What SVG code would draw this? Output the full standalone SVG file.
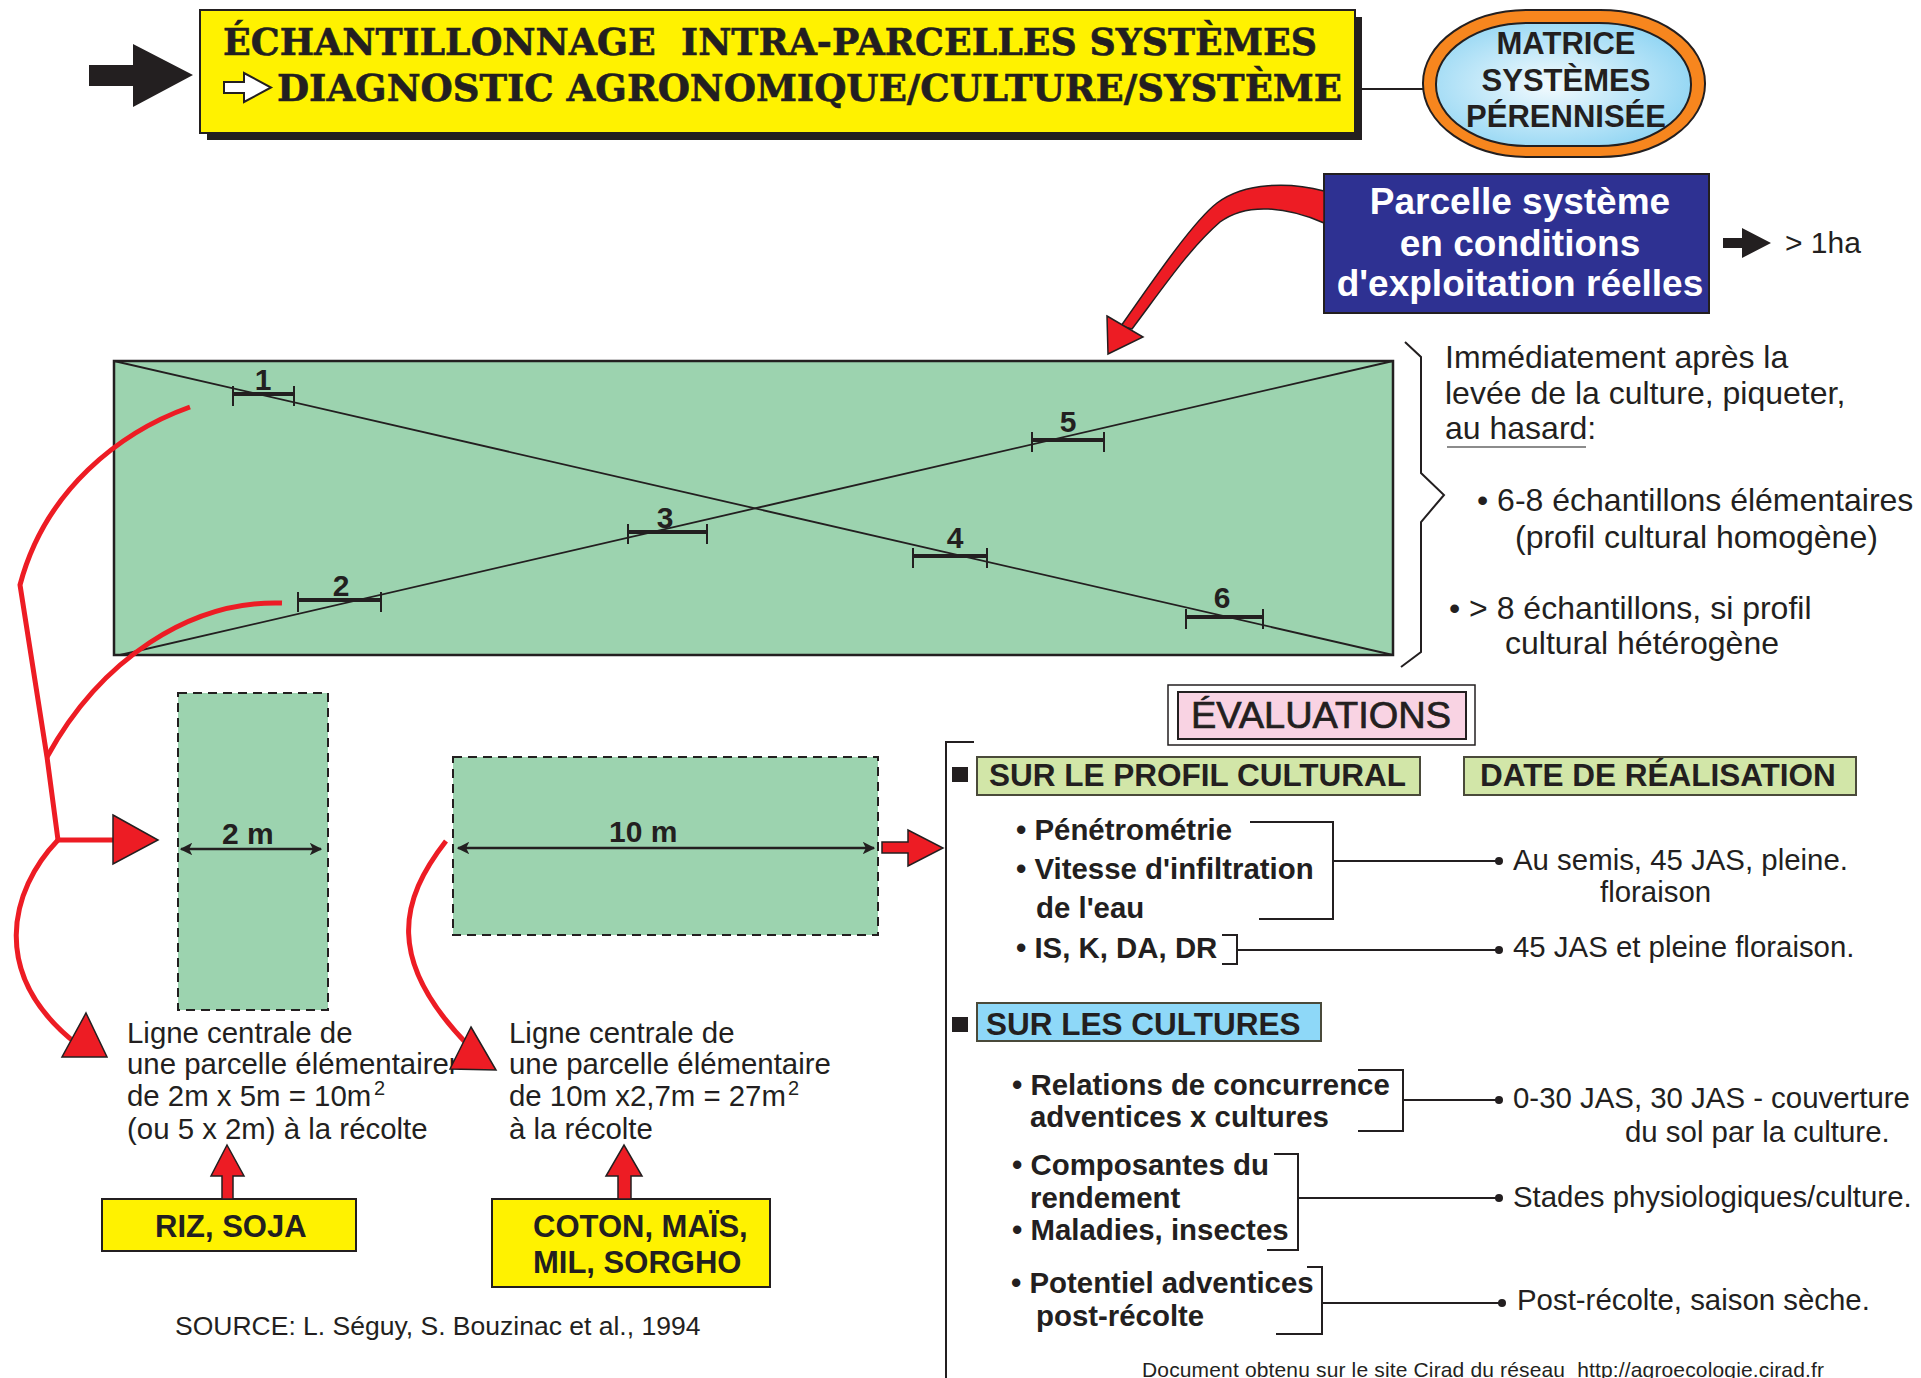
<svg xmlns="http://www.w3.org/2000/svg" width="1921" height="1378" viewBox="0 0 1921 1378">
<defs>
<style>
.sans{font-family:"Liberation Sans",Arial,Helvetica,sans-serif;fill:#231F20}
.b{font-weight:bold}
.title{font-family:"DejaVu Serif","Liberation Serif",serif;font-weight:bold;font-size:37px;fill:#231F20;white-space:pre;stroke:#231F20;stroke-width:0.6}
.t32{font-size:32px}
.t29{font-size:29.4px}
.num{font-size:30px;font-weight:bold}
.ln{stroke:#231F20;stroke-width:2;fill:none}
.red{stroke:#ED1C24;stroke-width:5;fill:none}
.redf{fill:#ED1C24;stroke:#231F20;stroke-width:1.5}
.blk{fill:#231F20}
.field{fill:#9CD3AF;stroke:#231F20;stroke-width:2.5}
.dash{fill:#9CD3AF;stroke:#231F20;stroke-width:2;stroke-dasharray:9 6}
.bar{stroke:#231F20;stroke-width:4}
.tick{stroke:#231F20;stroke-width:2}
.lbl{fill:#D2E6A8;stroke:#4A4A3A;stroke-width:2}
.dot{fill:#231F20}
</style>
<radialGradient id="sky" cx="0.45" cy="0.5" r="0.6">
<stop offset="0" stop-color="#F4FBFE"/>
<stop offset="1" stop-color="#8ED4F3"/>
</radialGradient>
<marker id="ah" viewBox="0 0 10 10" refX="9" refY="5" markerWidth="5" markerHeight="5" orient="auto-start-reverse">
<path d="M0,0 L10,5 L0,10 L2.5,5 Z" fill="#231F20"/>
</marker>
</defs>

<rect width="1921" height="1378" fill="#FFFFFF"/>

<!-- title banner -->
<g id="title">
<path class="blk" d="M89,65 L133,65 L133,44 L193,75 L133,107 L133,86 L89,86 Z"/>
<rect x="207" y="17" width="1155" height="123" fill="#231F20"/>
<rect x="200" y="10" width="1155" height="123" fill="#FFF200" stroke="#231F20" stroke-width="2"/>
<text class="title" x="223" y="55" textLength="1094" lengthAdjust="spacingAndGlyphs">ÉCHANTILLONNAGE  INTRA-PARCELLES SYSTÈMES</text>
<path d="M224,82 L244,82 L244,73 L271,87.5 L244,102 L244,93 L224,93 Z" fill="#FFFFFF" stroke="#231F20" stroke-width="2"/>
<text class="title" x="277" y="101" textLength="1065" lengthAdjust="spacingAndGlyphs">DIAGNOSTIC AGRONOMIQUE/CULTURE/SYSTÈME</text>
</g>

<!-- matrix oval -->
<g id="matrice">
<rect x="1423" y="10" width="282" height="147" rx="105" ry="73" fill="#F7861E" stroke="#231F20" stroke-width="2"/>
<rect x="1436" y="23" width="255" height="123" rx="92" ry="61" fill="url(#sky)" stroke="#231F20" stroke-width="2"/>
<text class="sans b" font-size="31" text-anchor="middle" x="1566" y="54">MATRICE</text>
<text class="sans b" font-size="31" text-anchor="middle" x="1566" y="91">SYSTÈMES</text>
<text class="sans b" font-size="31" text-anchor="middle" x="1566" y="127">PÉRENNISÉE</text>
</g>

<!-- system plot box -->
<g id="parcelle">
<rect x="1324" y="174" width="385" height="139" fill="#2E3192" stroke="#231F20" stroke-width="2"/>
<text class="sans b" font-size="37" text-anchor="middle" x="1520" y="214" style="fill:#FFFFFF">Parcelle système</text>
<text class="sans b" font-size="37" text-anchor="middle" x="1520" y="256" style="fill:#FFFFFF">en conditions</text>
<text class="sans b" font-size="37" text-anchor="middle" x="1520" y="296" style="fill:#FFFFFF">d'exploitation réelles</text>
</g>

<g id="surface">
<path class="blk" d="M1723,238 L1742,238 L1742,228 L1771,243 L1742,258 L1742,248 L1723,248 Z"/>
<text class="sans" font-size="30" x="1785" y="253">&gt; 1ha</text>
</g>

<!-- field with sampling diagonals -->
<g id="champ">
<rect class="field" x="114" y="361" width="1279" height="294"/>
<line x1="114" y1="361" x2="1393" y2="655" stroke="#231F20" stroke-width="1.8"/>
<line x1="120" y1="655" x2="1393" y2="361" stroke="#231F20" stroke-width="1.8"/>
<g id="ech1">
<line class="bar" x1="233" y1="394" x2="294" y2="394"/><line class="tick" x1="233" y1="386" x2="233" y2="406"/><line class="tick" x1="294" y1="386" x2="294" y2="406"/>
<text class="sans num" text-anchor="middle" x="263" y="390">1</text>
</g>
<g id="ech2">
<line class="bar" x1="298" y1="600" x2="381" y2="600"/><line class="tick" x1="298" y1="592" x2="298" y2="612"/><line class="tick" x1="381" y1="592" x2="381" y2="612"/>
<text class="sans num" text-anchor="middle" x="341" y="596">2</text>
</g>
<g id="ech3">
<line class="bar" x1="628" y1="532" x2="707" y2="532"/><line class="tick" x1="628" y1="524" x2="628" y2="544"/><line class="tick" x1="707" y1="524" x2="707" y2="544"/>
<text class="sans num" text-anchor="middle" x="665" y="528">3</text>
</g>
<g id="ech4">
<line class="bar" x1="913" y1="556" x2="987" y2="556"/><line class="tick" x1="913" y1="548" x2="913" y2="568"/><line class="tick" x1="987" y1="548" x2="987" y2="568"/>
<text class="sans num" text-anchor="middle" x="955" y="548">4</text>
</g>
<g id="ech5">
<line class="bar" x1="1032" y1="440" x2="1104" y2="440"/><line class="tick" x1="1032" y1="432" x2="1032" y2="452"/><line class="tick" x1="1104" y1="432" x2="1104" y2="452"/>
<text class="sans num" text-anchor="middle" x="1068" y="432">5</text>
</g>
<g id="ech6">
<line class="bar" x1="1186" y1="617" x2="1263" y2="617"/><line class="tick" x1="1186" y1="609" x2="1186" y2="629"/><line class="tick" x1="1263" y1="609" x2="1263" y2="629"/>
<text class="sans num" text-anchor="middle" x="1222" y="608">6</text>
</g>
</g>

<!-- sampling instructions -->
<g id="consignes">
<path class="ln" stroke-width="1.5" d="M1405,342 L1421,357 L1421,473 L1444,495 L1421,522 L1421,652 L1401,667"/>
<text class="sans t32" x="1445" y="368">Immédiatement après la</text>
<text class="sans t32" x="1445" y="404">levée de la culture, piqueter,</text>
<text class="sans t32" x="1445" y="439">au hasard:</text>
<line x1="1447" y1="447" x2="1586" y2="447" stroke="#8C8C8C" stroke-width="2"/>
<text class="sans t32" x="1477" y="511">• 6-8 échantillons élémentaires</text>
<text class="sans t32" x="1515" y="548">(profil cultural homogène)</text>
<text class="sans t32" x="1449" y="619">• &gt; 8 échantillons, si profil</text>
<text class="sans t32" x="1505" y="654">cultural hétérogène</text>
</g>

<!-- elementary plots -->
<g id="parcelle-2m">
<rect class="dash" x="178" y="693" width="150" height="317"/>
<line x1="181" y1="849" x2="321" y2="849" stroke="#231F20" stroke-width="2.5" marker-start="url(#ah)" marker-end="url(#ah)"/>
<text class="sans b" font-size="30" x="222" y="844">2 m</text>
</g>
<g id="parcelle-10m">
<rect class="dash" x="453" y="757" width="425" height="178"/>
<line x1="458" y1="848" x2="874" y2="848" stroke="#231F20" stroke-width="2.5" marker-start="url(#ah)" marker-end="url(#ah)"/>
<text class="sans b" font-size="30" x="609" y="842">10 m</text>
</g>

<g id="texte-2m">
<text class="sans t29" x="127" y="1043">Ligne centrale de</text>
<text class="sans t29" x="127" y="1074">une parcelle élémentairer</text>
<text class="sans t29" x="127" y="1106">de 2m x 5m = 10m</text>
<text class="sans" font-size="20" x="374" y="1095">2</text>
<text class="sans t29" x="127" y="1139">(ou 5 x 2m) à la récolte</text>
</g>
<g id="texte-10m">
<text class="sans t29" x="509" y="1043">Ligne centrale de</text>
<text class="sans t29" x="509" y="1074">une parcelle élémentaire</text>
<text class="sans t29" x="509" y="1106">de 10m x2,7m = 27m</text>
<text class="sans" font-size="20" x="788" y="1095">2</text>
<text class="sans t29" x="509" y="1139">à la récolte</text>
</g>

<g id="riz-soja">
<rect x="102" y="1199" width="254" height="52" fill="#FFF200" stroke="#231F20" stroke-width="2"/>
<text class="sans b" font-size="31" x="155" y="1237">RIZ, SOJA</text>
</g>
<g id="coton-mais">
<rect x="492" y="1199" width="278" height="88" fill="#FFF200" stroke="#231F20" stroke-width="2"/>
<text class="sans b" font-size="31" x="533" y="1237">COTON, MAÏS,</text>
<text class="sans b" font-size="31" x="533" y="1273">MIL, SORGHO</text>
</g>

<text class="sans" font-size="26.5" x="175" y="1335">SOURCE: L. Séguy, S. Bouzinac et al., 1994</text>

<!-- evaluations -->
<g id="evaluations">
<rect x="1168" y="685" width="307" height="60" fill="#FFFFFF" stroke="#231F20" stroke-width="1.5"/>
<rect x="1178" y="692" width="288" height="47" fill="#F9D3E3" stroke="#231F20" stroke-width="2"/>
<text class="sans" font-size="37" x="1191" y="728" textLength="260" lengthAdjust="spacingAndGlyphs" style="stroke:#231F20;stroke-width:0.7">ÉVALUATIONS</text>
</g>
<path class="ln" d="M974,742 L946,742 L946,1378"/>

<g id="profil-cultural">
<rect x="952" y="767" width="16" height="15" class="blk"/>
<rect class="lbl" x="977" y="757" width="443" height="38"/>
<text class="sans b" font-size="31.5" x="989" y="786">SUR LE PROFIL CULTURAL</text>
</g>
<g id="date-realisation">
<rect class="lbl" x="1464" y="757" width="392" height="38"/>
<text class="sans b" font-size="31.5" x="1480" y="786">DATE DE RÉALISATION</text>
</g>

<g id="mesures-profil">
<text class="sans b t29" x="1016" y="840">• Pénétrométrie</text>
<text class="sans b t29" x="1016" y="879">• Vitesse d'infiltration</text>
<text class="sans b t29" x="1036" y="918">de l'eau</text>
<text class="sans b t29" x="1016" y="958">• IS, K, DA, DR</text>
</g>
<g id="dates-profil">
<text class="sans t29" x="1513" y="870">Au semis, 45 JAS, pleine.</text>
<text class="sans t29" x="1600" y="902">floraison</text>
<text class="sans t29" x="1513" y="957">45 JAS et pleine floraison.</text>
</g>

<g id="cultures">
<rect x="952" y="1017" width="16" height="15" class="blk"/>
<rect x="977" y="1003" width="344" height="38" fill="#8ED8F8" stroke="#4A4A3A" stroke-width="2"/>
<text class="sans b" font-size="31.5" x="986" y="1035">SUR LES CULTURES</text>
</g>
<g id="mesures-cultures">
<text class="sans b t29" x="1012" y="1095">• Relations de concurrence</text>
<text class="sans b t29" x="1030" y="1127">adventices x cultures</text>
<text class="sans b t29" x="1012" y="1175">• Composantes du</text>
<text class="sans b t29" x="1030" y="1208">rendement</text>
<text class="sans b t29" x="1012" y="1240">• Maladies, insectes</text>
<text class="sans b t29" x="1011" y="1293">• Potentiel adventices</text>
<text class="sans b t29" x="1036" y="1326">post-récolte</text>
</g>
<g id="dates-cultures">
<text class="sans t29" x="1513" y="1108">0-30 JAS, 30 JAS - couverture</text>
<text class="sans t29" x="1625" y="1142">du sol par la culture.</text>
<text class="sans t29" x="1513" y="1207">Stades physiologiques/culture.</text>
<text class="sans t29" x="1517" y="1310">Post-récolte, saison sèche.</text>
</g>

<text class="sans" font-size="21" x="1142" y="1377" textLength="682" style="white-space:pre">Document obtenu sur le site Cirad du réseau  http://agroecologie.cirad.fr</text>

<!-- connectors -->
<g id="connecteurs">
<line class="ln" x1="1362" y1="89" x2="1423" y2="89"/>
<path class="redf" d="M1324,191 C1290,182 1245,182 1217,203 C1195,220 1160,270 1121,326 L1132,329 C1165,285 1190,248 1220,222 C1247,202 1287,207 1324,223 Z"/>
<path class="redf" d="M1107,316 L1143,337 L1108,354 Z"/>

<path class="red" d="M190,407 C120,432 45,490 20,585 L47,757 L58,840"/>
<path class="red" d="M282,603 C190,600 100,660 47,757"/>
<path class="red" d="M58,840 L116,840"/>
<path class="redf" d="M113,815 L158,840 L113,864 Z"/>
<path class="red" d="M58,840 C10,890 -12,975 78,1045"/>
<path class="redf" d="M86,1013 L107,1057 L62,1057 Z"/>
<path class="red" d="M446,841 C400,900 385,960 468,1045"/>
<path class="redf" d="M471,1027 L496,1070 L450,1069 Z"/>

<path class="redf" d="M882,842 L908,842 L908,830 L943,848 L908,866 L908,853 L882,853 Z"/>
<path class="redf" d="M222,1199 L222,1176 L211,1176 L227,1145 L244,1176 L233,1176 L233,1199 Z"/>
<path class="redf" d="M618,1199 L618,1176 L606,1176 L624,1145 L642,1176 L631,1176 L631,1199 Z"/>

<path class="ln" d="M1250,822 L1333,822 L1333,919 L1259,919"/>
<line class="ln" x1="1333" y1="861" x2="1499" y2="861"/>
<circle class="dot" cx="1499" cy="861" r="4"/>
<path class="ln" d="M1222,935 L1237,935 L1237,964 L1222,964"/>
<line class="ln" x1="1237" y1="950" x2="1499" y2="950"/>
<circle class="dot" cx="1499" cy="950" r="4"/>

<path class="ln" d="M1358,1070 L1403,1070 L1403,1131 L1358,1131"/>
<line class="ln" x1="1403" y1="1100" x2="1499" y2="1100"/>
<circle class="dot" cx="1499" cy="1100" r="4"/>
<path class="ln" d="M1274,1154 L1298,1154 L1298,1250 L1267,1250"/>
<line class="ln" x1="1298" y1="1198" x2="1499" y2="1198"/>
<circle class="dot" cx="1499" cy="1198" r="4"/>
<path class="ln" d="M1307,1267 L1322,1267 L1322,1334 L1276,1334"/>
<line class="ln" x1="1322" y1="1303" x2="1502" y2="1303"/>
<circle class="dot" cx="1502" cy="1303" r="4"/>
</g>
</svg>
